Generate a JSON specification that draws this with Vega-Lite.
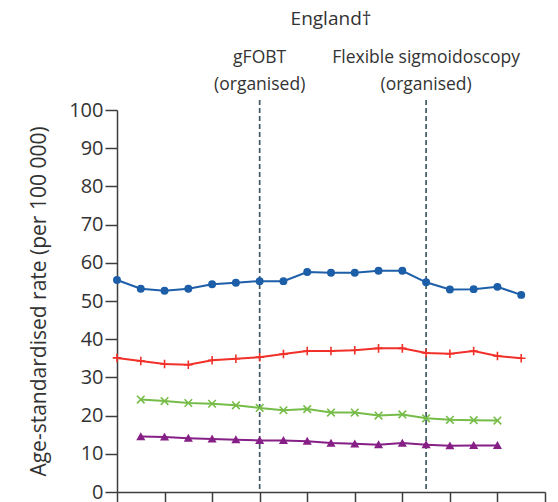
{
  "$schema": "https://vega.github.io/schema/vega-lite/v6.json",
  "width": 428,
  "height": 382,
  "autosize": {"type": "none"},
  "padding": {"left": 117, "top": 110, "right": 13, "bottom": 10},
  "background": "white",
  "config": {"view": {"stroke": null}, "font": "Open Sans"},
  "title": {"text": "England†", "fontSize": 19, "fontWeight": "normal", "color": "#333333", "offset": 20, "anchor": "middle"},
  "datasets": {
    "rates": [
      {"year": 2000, "series": "A", "rate": 55.5},
      {"year": 2001, "series": "A", "rate": 53.2},
      {"year": 2002, "series": "A", "rate": 52.7},
      {"year": 2003, "series": "A", "rate": 53.2},
      {"year": 2004, "series": "A", "rate": 54.4},
      {"year": 2005, "series": "A", "rate": 54.8},
      {"year": 2006, "series": "A", "rate": 55.2},
      {"year": 2007, "series": "A", "rate": 55.2},
      {"year": 2008, "series": "A", "rate": 57.6},
      {"year": 2009, "series": "A", "rate": 57.4},
      {"year": 2010, "series": "A", "rate": 57.4},
      {"year": 2011, "series": "A", "rate": 57.9},
      {"year": 2012, "series": "A", "rate": 57.9},
      {"year": 2013, "series": "A", "rate": 54.9},
      {"year": 2014, "series": "A", "rate": 53.0},
      {"year": 2015, "series": "A", "rate": 53.1},
      {"year": 2016, "series": "A", "rate": 53.7},
      {"year": 2017, "series": "A", "rate": 51.6},
      {"year": 2000, "series": "B", "rate": 35.1},
      {"year": 2001, "series": "B", "rate": 34.3},
      {"year": 2002, "series": "B", "rate": 33.5},
      {"year": 2003, "series": "B", "rate": 33.3},
      {"year": 2004, "series": "B", "rate": 34.5},
      {"year": 2005, "series": "B", "rate": 34.9},
      {"year": 2006, "series": "B", "rate": 35.3},
      {"year": 2007, "series": "B", "rate": 36.1},
      {"year": 2008, "series": "B", "rate": 36.9},
      {"year": 2009, "series": "B", "rate": 36.9},
      {"year": 2010, "series": "B", "rate": 37.1},
      {"year": 2011, "series": "B", "rate": 37.6},
      {"year": 2012, "series": "B", "rate": 37.6},
      {"year": 2013, "series": "B", "rate": 36.4},
      {"year": 2014, "series": "B", "rate": 36.2},
      {"year": 2015, "series": "B", "rate": 36.9},
      {"year": 2016, "series": "B", "rate": 35.6},
      {"year": 2017, "series": "B", "rate": 35.0},
      {"year": 2001, "series": "C", "rate": 24.2},
      {"year": 2002, "series": "C", "rate": 23.8},
      {"year": 2003, "series": "C", "rate": 23.3},
      {"year": 2004, "series": "C", "rate": 23.1},
      {"year": 2005, "series": "C", "rate": 22.7},
      {"year": 2006, "series": "C", "rate": 22.0},
      {"year": 2007, "series": "C", "rate": 21.4},
      {"year": 2008, "series": "C", "rate": 21.7},
      {"year": 2009, "series": "C", "rate": 20.8},
      {"year": 2010, "series": "C", "rate": 20.8},
      {"year": 2011, "series": "C", "rate": 20.0},
      {"year": 2012, "series": "C", "rate": 20.3},
      {"year": 2013, "series": "C", "rate": 19.3},
      {"year": 2014, "series": "C", "rate": 18.9},
      {"year": 2015, "series": "C", "rate": 18.8},
      {"year": 2016, "series": "C", "rate": 18.7},
      {"year": 2001, "series": "D", "rate": 14.5},
      {"year": 2002, "series": "D", "rate": 14.4},
      {"year": 2003, "series": "D", "rate": 14.1},
      {"year": 2004, "series": "D", "rate": 13.9},
      {"year": 2005, "series": "D", "rate": 13.7},
      {"year": 2006, "series": "D", "rate": 13.5},
      {"year": 2007, "series": "D", "rate": 13.5},
      {"year": 2008, "series": "D", "rate": 13.3},
      {"year": 2009, "series": "D", "rate": 12.8},
      {"year": 2010, "series": "D", "rate": 12.6},
      {"year": 2011, "series": "D", "rate": 12.4},
      {"year": 2012, "series": "D", "rate": 12.8},
      {"year": 2013, "series": "D", "rate": 12.4},
      {"year": 2014, "series": "D", "rate": 12.1},
      {"year": 2015, "series": "D", "rate": 12.2},
      {"year": 2016, "series": "D", "rate": 12.2}
    ],
    "events": [
      {"year": 2006, "l1": "gFOBT", "l2": "(organised)"},
      {"year": 2013, "l1": "Flexible sigmoidoscopy", "l2": "(organised)"}
    ]
  },
  "layer": [
    {
      "data": {"name": "rates"},
      "mark": {"type": "line", "strokeWidth": 2},
      "encoding": {
        "x": {"field": "year", "type": "quantitative", "scale": {"domain": [2000, 2018], "nice": false, "zero": false},
          "axis": {"values": [2000, 2002, 2004, 2006, 2008, 2010, 2012, 2014, 2016, 2018], "labels": false, "tickSize": 12, "tickWidth": 1.5, "tickColor": "#3d3d3d", "domainColor": "#3d3d3d", "domainWidth": 1.5, "grid": false, "title": null}},
        "y": {"field": "rate", "type": "quantitative", "scale": {"domain": [0, 100], "nice": false, "zero": true},
          "axis": {"values": [0, 10, 20, 30, 40, 50, 60, 70, 80, 90, 100], "tickCount": 11, "labelOverlap": false, "tickSize": 12, "tickWidth": 1.5, "tickColor": "#3d3d3d", "domainColor": "#3d3d3d", "domainWidth": 1.5, "labelFontSize": 20, "labelColor": "#333333", "labelPadding": 2, "grid": false,
            "title": "Age-standardised rate (per 100 000)", "titleFontSize": 21, "titleFontWeight": "normal", "titleColor": "#333333", "titlePadding": 19}},
        "color": {"field": "series", "type": "nominal", "legend": null,
          "scale": {"domain": ["A", "B", "C", "D"], "range": ["#1d5ea8", "#f2302a", "#76bc48", "#861f86"]}}
      }
    },
    {
      "data": {"name": "events"},
      "mark": {"type": "rule", "strokeDash": [5, 3], "strokeWidth": 1.7, "color": "#3f5a66"},
      "encoding": {
        "x": {"field": "year", "type": "quantitative"},
        "y": {"datum": 102.6, "type": "quantitative"},
        "y2": {"datum": 0}
      }
    },
    {
      "data": {"name": "events"},
      "mark": {"type": "text", "fontSize": 17.5, "color": "#333333", "baseline": "middle", "align": "center"},
      "encoding": {
        "x": {"field": "year", "type": "quantitative"},
        "y": {"datum": 113.6, "type": "quantitative"},
        "text": {"field": "l1"}
      }
    },
    {
      "data": {"name": "events"},
      "mark": {"type": "text", "fontSize": 17.5, "color": "#333333", "baseline": "middle", "align": "center"},
      "encoding": {
        "x": {"field": "year", "type": "quantitative"},
        "y": {"datum": 106.5, "type": "quantitative"},
        "text": {"field": "l2"}
      }
    },
    {
      "data": {"name": "rates"},
      "mark": {"type": "point", "filled": true, "opacity": 1, "size": 40, "strokeWidth": 1.6},
      "encoding": {
        "x": {"field": "year", "type": "quantitative"},
        "y": {"field": "rate", "type": "quantitative"},
        "shape": {"field": "series", "type": "nominal", "legend": null,
          "scale": {"domain": ["A", "B", "C", "D"], "range": ["circle", "M-1.35,0L1.35,0M0,-1.35L0,1.35", "M-1.2,-1.2L1.2,1.2M-1.2,1.2L1.2,-1.2", "triangle-up"]}},
        "fill": {"field": "series", "type": "nominal", "legend": null,
          "scale": {"domain": ["A", "B", "C", "D"], "range": ["#1d5ea8", "#f2302a", "#76bc48", "#861f86"]}},
        "stroke": {"field": "series", "type": "nominal", "legend": null,
          "scale": {"domain": ["A", "B", "C", "D"], "range": ["#1d5ea8", "#f2302a", "#76bc48", "#861f86"]}}
      }
    }
  ]
}
